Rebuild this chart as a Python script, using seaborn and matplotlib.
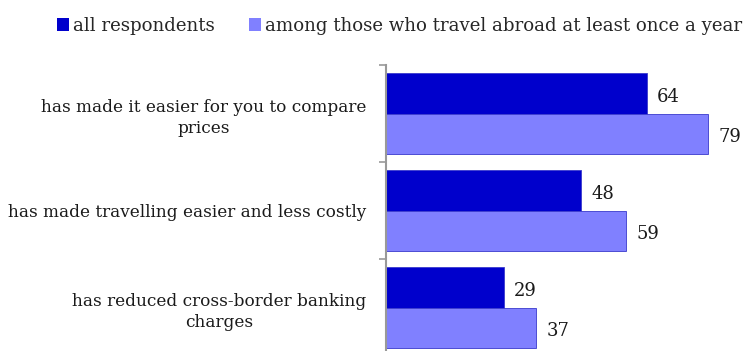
import matplotlib
matplotlib.use("Agg")
import matplotlib.pyplot as plt
from matplotlib.patches import Patch
import seaborn as sns
import pandas as pd

categories = [
    "has made it easier for you to compare\nprices",
    "has made travelling easier and less costly",
    "has reduced cross-border banking\ncharges",
]
series_names = ["all respondents", "among those who travel abroad at least once a year"]
all_respondents = [64, 48, 29]
travel_abroad = [79, 59, 37]
colors = ["#0000CC", "#8080FF"]

df = pd.DataFrame({
    "category": categories * 2,
    "series": [series_names[0]] * 3 + [series_names[1]] * 3,
    "value": all_respondents + travel_abroad,
})

sns.set_theme(style="white")
plt.rcParams["font.family"] = ["DejaVu Serif"]

W, H = 745, 351
fig = plt.figure(figsize=(W / 100, H / 100), dpi=100)
px_per_unit = 4.08
xmax = 100
left_px, top_px, bottom_px = 385.5, 65.3, 356.3
ax = fig.add_axes([left_px / W, 1 - bottom_px / H,
                   xmax * px_per_unit / W, (bottom_px - top_px) / H])

sns.barplot(data=df, y="category", x="value", hue="series", orient="h",
            palette=colors, width=0.832, gap=0, ax=ax, legend=False,
            linewidth=0.6, edgecolor="#3a3acc", saturation=1)

# value labels just right of each bar, nudged slightly down
for cont in ax.containers:
    for bar in cont:
        w = bar.get_width()
        yc = bar.get_y() + bar.get_height() / 2
        ax.annotate(f"{w:.0f}", xy=(w, yc), xytext=(7.5, -2.5),
                    textcoords="offset points", ha="left", va="center",
                    fontsize=13, color="#1a1a1a")

ax.set_xlim(0, xmax)
ax.set_ylim(2.5, -0.5)
ax.set_xlabel("")
ax.set_ylabel("")
ax.set_xticks([])

ax.set_yticks([0, 1, 2])
ax.set_yticklabels(categories, fontsize=12.2, color="#1a1a1a")
for t in ax.get_yticklabels():
    t.set_multialignment("center")
    t.set_linespacing(1.3)
ax.tick_params(axis="y", which="major", length=0, pad=13.5)
ax.set_yticks([-0.5, 0.5, 1.5, 2.5], minor=True)
ax.tick_params(axis="y", which="minor", length=5, width=1.2, color="#999999", left=True)

for s in ["top", "right", "bottom"]:
    ax.spines[s].set_visible(False)
ax.spines["left"].set_color("#999999")
ax.spines["left"].set_linewidth(1.5)

handles = [Patch(facecolor=c, edgecolor="none") for c in colors]
fig.legend(handles, series_names, loc="center left", bbox_to_anchor=(57 / W, 1 - 26 / H),
           ncol=2, frameon=False, fontsize=13.1, handlelength=0.68, handleheight=0.68,
           handletextpad=0.22, columnspacing=1.85, borderaxespad=0, borderpad=0)

fig.savefig("out.png", dpi=100)
